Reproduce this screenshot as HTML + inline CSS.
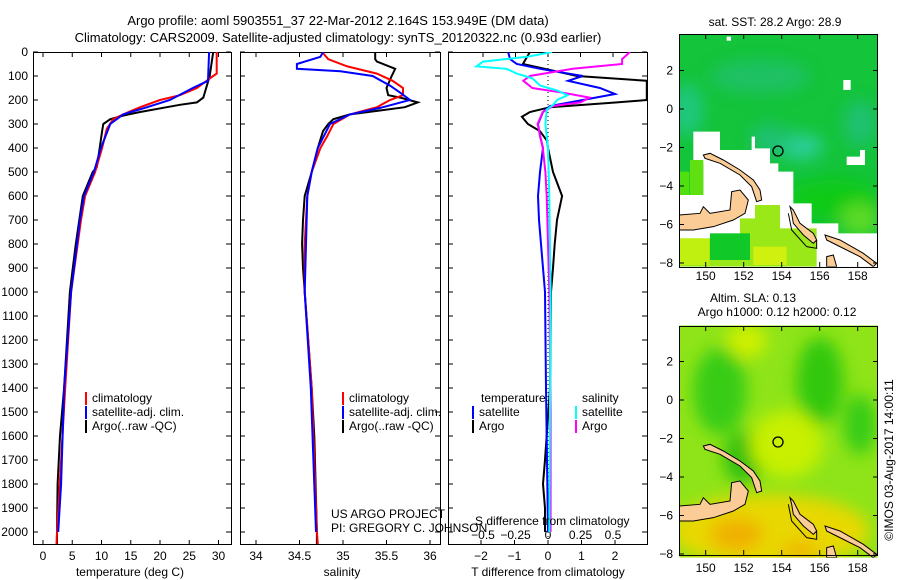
<!DOCTYPE html>
<html><head><meta charset="utf-8"><style>
body{margin:0;background:#fff;}
svg{display:block;font-family:"Liberation Sans",sans-serif;}
</style></head><body>
<svg id="fig" width="900" height="580" viewBox="0 0 900 580" xmlns="http://www.w3.org/2000/svg">
<defs>
<clipPath id="c1"><rect x="33" y="52" width="198" height="493"/></clipPath>
<clipPath id="c2"><rect x="240" y="52" width="200" height="493"/></clipPath>
<clipPath id="c3"><rect x="448" y="52" width="199" height="493"/></clipPath>
<clipPath id="cm1"><rect x="58" y="103" width="595" height="697"/></clipPath>
<filter id="bl"><feGaussianBlur stdDeviation="25"/></filter>
</defs>
<g font-size="13" text-anchor="middle" fill="#000">
<text x="338" y="25">Argo profile: aoml 5903551_37 22-Mar-2012 2.164S 153.949E (DM data)</text>
<text x="338" y="42">Climatology: CARS2009. Satellite-adjusted climatology: synTS_20120322.nc (0.93d earlier)</text>
</g>

<!-- Map 1 SST -->
<g transform="translate(660,0) scale(0.33333)">
<g clip-path="url(#cm1)">
<rect x="58" y="103" width="595" height="697" fill="#14c43a"/>
<g filter="url(#bl)" opacity="0.8">
<ellipse cx="80" cy="330" rx="50" ry="80" fill="#20c890"/>
<ellipse cx="420" cy="440" rx="70" ry="40" fill="#30d0b0"/>
<ellipse cx="330" cy="420" rx="60" ry="50" fill="#20c080"/>
<ellipse cx="300" cy="230" rx="150" ry="50" fill="#20c070"/>
<ellipse cx="600" cy="370" rx="50" ry="70" fill="#20c080"/>
<ellipse cx="520" cy="600" rx="140" ry="60" fill="#10cc10"/>
<ellipse cx="600" cy="660" rx="60" ry="50" fill="#70e020"/>
</g>
<polygon fill="#fff" points="100,395 180,395 180,450 275,450 275,410 285,410 285,445 330,445 330,490 355,490 355,515 400,515 400,610 455,610 455,670 535,670 535,700 653,700 653,800 58,800 58,585 130,585 130,490 100,490"/>
<rect x="90" y="480" width="40" height="105" fill="#60e010"/>
<rect x="58" y="515" width="30" height="70" fill="#50e010"/>
<polygon fill="#9ae818" points="285,615 360,615 360,685 470,685 470,800 58,800 58,715 240,715 240,655 285,655"/>
<rect x="150" y="700" width="120" height="80" fill="#10c828"/>
<rect x="58" y="715" width="90" height="80" fill="#c0f010"/>
<rect x="280" y="740" width="100" height="55" fill="#d0f010"/>
<rect x="200" y="110" width="13" height="12" fill="#fff"/>
<rect x="550" y="240" width="22" height="30" fill="#fff"/>
<polygon fill="#fff" points="560,495 615,495 615,450 600,450 600,470 560,470"/>
<g fill="#fccc96" stroke="#000" stroke-width="3">
<polygon points="58,645 120,640 130,620 150,640 210,630 215,575 240,570 265,600 255,640 220,660 160,680 100,690 58,690"/>
<polygon points="130,465 150,460 190,480 240,510 280,540 300,570 305,600 290,605 275,560 240,525 180,490 135,475"/>
<polygon points="390,620 400,630 420,670 460,700 470,720 460,730 430,705 400,670 395,640"/>
<polygon points="495,705 540,720 610,760 650,790 640,800 600,770 530,735 500,720"/>
<polygon points="500,770 520,765 530,800 500,800"/>
<polyline fill="none" points="385,640 395,690 440,740 470,745 470,720"/>
</g>
</g>
<circle cx="354" cy="453" r="15" fill="none" stroke="#000" stroke-width="4"/>
</g>

<!-- Map 2 SLA -->
<g transform="translate(660,291) scale(0.33333)">
<g clip-path="url(#cm1)">
<rect x="58" y="103" width="595" height="697" fill="#8ee418"/>
<g filter="url(#bl)">
<ellipse cx="180" cy="300" rx="80" ry="130" fill="#38cc18"/>
<ellipse cx="480" cy="270" rx="70" ry="130" fill="#30c810"/>
<ellipse cx="600" cy="400" rx="50" ry="90" fill="#38cc18"/>
<ellipse cx="250" cy="500" rx="60" ry="80" fill="#30c010"/>
<ellipse cx="260" cy="150" rx="60" ry="50" fill="#d0f000"/>
<ellipse cx="380" cy="460" rx="110" ry="100" fill="#c8f000"/>
<ellipse cx="330" cy="720" rx="300" ry="110" fill="#e8d800"/>
<ellipse cx="230" cy="730" rx="80" ry="50" fill="#f0b000"/>
<ellipse cx="420" cy="780" rx="60" ry="30" fill="#f0b800"/>
</g>
<g fill="#fccc96" stroke="#000" stroke-width="3">
<polygon points="58,645 120,640 130,620 150,640 210,630 215,575 240,570 265,600 255,640 220,660 160,680 100,690 58,690"/>
<polygon points="130,465 150,460 190,480 240,510 280,540 300,570 305,600 290,605 275,560 240,525 180,490 135,475"/>
<polygon points="390,620 400,630 420,670 460,700 470,720 460,730 430,705 400,670 395,640"/>
<polygon points="495,705 540,720 610,760 650,790 640,800 600,770 530,735 500,720"/>
<polygon points="500,770 520,765 530,800 500,800"/>
<polyline fill="none" points="385,640 395,690 440,740 470,745 470,720"/>
</g>
</g>
<circle cx="354" cy="453" r="15" fill="none" stroke="#000" stroke-width="4"/>
</g>

<g id="layer"></g>
<g font-size="12" text-anchor="middle">
<text x="775" y="26">sat. SST: 28.2 Argo: 28.9</text>
<text x="753" y="302">Altim. SLA: 0.13</text>
<text x="777" y="316">Argo h1000: 0.12 h2000: 0.12</text>
</g>
<text font-size="12" text-anchor="middle" transform="translate(893,460) rotate(-90)">©IMOS 03-Aug-2017 14:00:11</text>
<g font-size="12">
<text x="331" y="518">US ARGO PROJECT</text>
<text x="331" y="532">PI: GREGORY C. JOHNSON</text>
<text x="475" y="525">S difference from climatology</text>
<text x="130" y="576" text-anchor="middle">temperature (deg C)</text>
<text x="342" y="576" text-anchor="middle">salinity</text>
<text x="548" y="576" text-anchor="middle">T difference from climatology</text>
</g>
</svg>
<script>
// ---- data ----
const depthsArgoT = [0,100,190,210,220,250,265,280,300,330,400,480,500,600,700,800,900,1000,1400,1600,1800,2000,2050];
const tempArgo =    [29.1,28.5,27.4,26.3,23.4,16.6,13.7,11.5,10.3,10.1,9.7,9.2,8.5,6.8,6.2,5.6,5.1,4.6,3.6,2.9,2.5,2.4,2.4];
const depthsClimT = [0,90,100,150,180,200,230,260,280,320,400,500,600,700,1000,1400,2000,2050];
const tempClim =    [29.7,29.7,29.1,26.3,23.4,20,16.6,13.7,12,10.9,10.1,8.9,7.2,6.5,4.8,3.8,2.4,2.3];
const depthsSatT =  [0,120,150,200,230,260,300,400,500,600,700,1000,1400,1800,2000];
const tempSat =     [28.4,28.2,25.6,21.7,17.8,13.7,11.5,9.9,8.7,7.0,6.3,4.8,3.6,3.1,2.6];

const depthsArgoS = [0,30,40,70,100,150,180,190,210,230,260,280,300,330,400,500,600,700,800,900,1400,1600,2000,2050];
const salArgo =     [35.37,35.37,35.39,35.6,35.56,35.5,35.52,35.66,35.86,35.71,35.08,34.89,34.83,34.77,34.71,34.64,34.56,34.54,34.53,34.54,34.64,34.67,34.7,34.7];
const depthsClimS = [0,30,60,90,120,150,180,200,230,260,300,350,400,500,600,800,1000,1400,2000,2050];
const salClim =     [34.76,34.83,35.05,35.39,35.57,35.69,35.69,35.54,35.39,35.08,34.89,34.82,34.74,34.64,34.59,34.56,34.56,34.64,34.7,34.71];
const depthsSatS =  [0,20,50,70,80,100,140,170,200,230,260,300,400,500,600,1000,1400,2000];
const salSat =      [34.77,34.74,34.47,34.47,34.97,35.34,35.54,35.66,35.77,35.46,35.08,34.85,34.71,34.64,34.59,34.56,34.63,34.69];

const depthsDT =   [0,50,100,120,200,210,230,250,270,300,330,370,400,500,600,700,800,900,1000,1400,1700,1800,1900,2000];
const dTArgo =     [-0.54,-0.75,0.87,2.95,2.95,2.06,0.06,-0.54,-0.78,-0.6,-0.24,-0.03,0,0.15,0.42,0.27,0.2,0.15,0.09,0.06,-0.09,-0.15,-0.09,-0.09];
const depthsDTs =  [0,30,50,70,100,120,150,175,200,225,250,300,350,400,500,600,700,800,900,1000,1400,2000];
const dTSat =      [-1.19,-1.13,-0.93,-0.24,1.04,0.6,1.55,2.0,1.04,0.06,-0.15,-0.3,-0.24,-0.15,-0.24,-0.3,-0.27,-0.21,-0.15,-0.09,-0.06,0];
const depthsDS =   [0,20,40,60,70,90,110,140,160,180,200,220,240,300,400,600,1000,2000];
const dSSat =      [0.03,-0.16,-0.5,-0.55,-0.32,-0.24,-0.12,-0.06,0.07,0.15,0.07,0.04,-0.01,-0.02,0,0.01,0.02,0.01];
const depthsDSa =  [0,30,50,70,100,120,150,170,190,210,225,250,300,400,500,600,1000,1500,2000];
const dSArgo =     [0.63,0.57,0.57,0.19,-0.14,-0.19,-0.12,0.12,0.32,0.25,0.04,-0.04,-0.08,-0.04,-0.02,-0.01,0.01,0.02,0.02];

const depthTicks = [0,100,200,300,400,500,600,700,800,900,1000,1100,1200,1300,1400,1500,1600,1700,1800,1900,2000];
const tempTicks = [0,5,10,15,20,25,30];
const salTicks = [34,34.5,35,35.5,36];
const dTTicks = [-2,-1,0,1,2];
const dSTicks = [-0.5,-0.25,0,0.25,0.5];
const latTicks = [2,0,-2,-4,-6,-8];
const lonTicks = [150,152,154,156,158];

// ---- axes ----
const yD = d => 52 + 0.24*d;
const xT = t => 43 + 5.85*t;
const xS = s => 256 + 87*(s-34);
const xDT = t => 548 + 33.5*t;
const xDS = s => 548 + 130*s;
const mapX = lon => 705.7 + 19*(lon-150);
const mapY1 = lat => 109 - 19.25*lat;
const mapY2 = lat => 400 - 19.25*lat;

const NS = 'http://www.w3.org/2000/svg';
const layer = document.getElementById('layer');
function mk(tag, attrs, parent){
  const e = document.createElementNS(NS, tag);
  for (const k in attrs) e.setAttribute(k, attrs[k]);
  (parent||layer).appendChild(e);
  return e;
}
function line(x1,y1,x2,y2){ return mk('line',{x1:x1,y1:y1,x2:x2,y2:y2,stroke:'#000','stroke-width':1}); }
function txt(x,y,s,anchor,size){ const t=mk('text',{x:x,y:y,'font-size':size||12,'text-anchor':anchor||'middle'}); t.textContent=s; return t; }

function series(name, depths, vals, fx, color, clip){
  const pts = depths.map((d,i)=> fx(vals[i]).toFixed(1)+','+yD(d).toFixed(1)).join(' ');
  const p = mk('polyline',{points:pts,fill:'none',stroke:color,'stroke-width':2,'clip-path':'url(#'+clip+')'});
  
  
}

// frames
const frames = [[33,231,'temperature-panel'],[240,440,'salinity-panel'],[448,647,'difference-panel']];
frames.forEach(f=>{
  const r = mk('rect',{x:f[0]+0.5,y:52.5,width:f[1]-f[0],height:492,fill:'none',stroke:'#000','stroke-width':1});
  
  
  depthTicks.forEach(d=>{ line(f[0],yD(d),f[0]+5,yD(d)); line(f[1],yD(d),f[1]-5,yD(d)); });
});
depthTicks.forEach(d=>{
  const t = txt(28, yD(d)+4, String(d), 'end');
  
  
});
tempTicks.forEach(v=>{ line(xT(v),545,xT(v),540); line(xT(v),52,xT(v),57);
  const t=txt(xT(v),560,String(v));
  
   });
salTicks.forEach(v=>{ line(xS(v),545,xS(v),540); line(xS(v),52,xS(v),57);
  const t=txt(xS(v),560,String(v));
  
   });
dTTicks.forEach(v=>{ line(xDT(v),545,xDT(v),540);
  const t=txt(xDT(v),560,String(v).replace('-','\u2212'));
  
   });
dSTicks.forEach(v=>{ line(xDS(v),52,xDS(v),57);
  const t=txt(xDS(v),539,String(v).replace('-','\u2212'));
  
   });
// zero line
const z = mk('line',{x1:xDT(0),y1:52,x2:xDT(0),y2:545,stroke:'#000','stroke-width':1,'stroke-dasharray':'1,3'});



// series
series('temp-argo', depthsArgoT, tempArgo, xT, '#000', 'c1');
series('temp-climatology', depthsClimT, tempClim, xT, '#f00', 'c1');
series('temp-satellite', depthsSatT, tempSat, xT, '#00f', 'c1');
series('sal-argo', depthsArgoS, salArgo, xS, '#000', 'c2');
series('sal-climatology', depthsClimS, salClim, xS, '#f00', 'c2');
series('sal-satellite', depthsSatS, salSat, xS, '#00f', 'c2');
series('dt-argo', depthsDT, dTArgo, xDT, '#000', 'c3');
series('dt-satellite', depthsDTs, dTSat, xDT, '#00f', 'c3');
series('ds-argo', depthsDSa, dSArgo, xDS, '#f0f', 'c3');
series('ds-satellite', depthsDS, dSSat, xDS, '#0ff', 'c3');

// legends
function legend(x, y, color, label){
  const b = mk('rect',{x:x,y:y-10,width:2,height:13,fill:color});
  
  
  const t = txt(x+7, y, label, 'start');
  
  
}
legend(85,402,'#f00','climatology'); legend(85,416,'#00f','satellite-adj. clim.'); legend(85,430,'#000','Argo(..raw -QC)');
legend(342,402,'#f00','climatology'); legend(342,416,'#00f','satellite-adj. clim.'); legend(342,430,'#000','Argo(..raw -QC)');
legend(472,416,'#00f','satellite'); legend(472,430,'#000','Argo');
legend(575,416,'#0ff','satellite'); legend(575,430,'#f0f','Argo');
txt(481,402,'temperature','start'); txt(582,402,'salinity','start');

// map frames and ticks
[[34,267,mapY1,280,'sst-map-frame'],[326,555,mapY2,572,'sla-map-frame']].forEach(m=>{
  const r = mk('rect',{x:679.5,y:m[0]+0.5,width:198,height:m[1]-m[0],fill:'none',stroke:'#000','stroke-width':1});
  
  
  latTicks.forEach(l=>{ const y=m[2](l); line(679,y,684,y); line(878,y,873,y);
    const t=txt(673,y+4,String(l).replace('-','\u2212'),'end');
    
     });
  lonTicks.forEach(l=>{ const x=mapX(l); line(x,m[0],x,m[0]+5); line(x,m[1],x,m[1]-5);
    const t=txt(x,m[3],String(l));
    
     });
});
</script>
</body></html>
